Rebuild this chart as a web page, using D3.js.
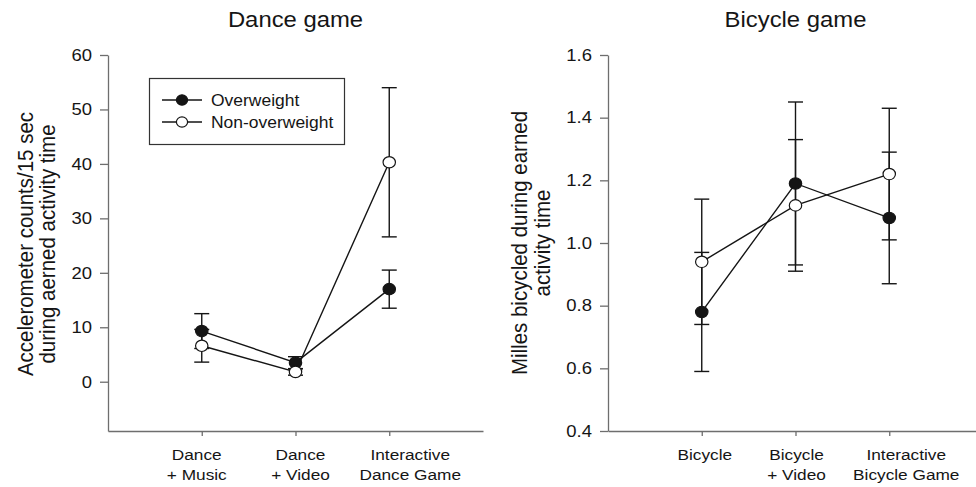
<!DOCTYPE html>
<html>
<head>
<meta charset="utf-8">
<script src="https://cdn.jsdelivr.net/npm/d3@7"></script>
<style>
  body { margin: 0; background: #fff; }
  svg { display: block; font-family: "Liberation Sans", Arial, Helvetica, sans-serif; }
</style>
</head>
<body>
<div id="chart"></div>
<script>
// Dance game
const danceCategories = [["Dance", "+ Music"], ["Dance", "+ Video"], ["Interactive", "Dance Game"]];
const danceOverweight = [9.3, 3.5, 17.0];
const danceOverweightErr = [3.2, 1.1, 3.5];
const danceNonOverweight = [6.6, 1.8, 40.3];
const danceNonOverweightErr = [3.0, 0.6, 13.7];
const danceTicks = [0, 10, 20, 30, 40, 50, 60];

// Bicycle game
const bikeCategories = [["Bicycle"], ["Bicycle", "+ Video"], ["Interactive", "Bicycle Game"]];
const bikeOverweight = [0.78, 1.19, 1.08];
const bikeOverweightErr = [0.19, 0.26, 0.21];
const bikeNonOverweight = [0.94, 1.12, 1.22];
const bikeNonOverweightErr = [0.20, 0.21, 0.21];
const bikeTicks = [0.4, 0.6, 0.8, 1.0, 1.2, 1.4, 1.6];

const seriesNames = ["Overweight", "Non-overweight"];

const W = 976, H = 487;
const plotTop = 55, plotBottom = 431, plotW = 375;
const ink = '#151515', axisColor = '#6e6e6e';
const SX = 1.12; // the scanned figure is a little wider than tall

const svg = d3.select('#chart').append('svg')
    .attr('width', W)
    .attr('height', H);

svg.append('rect').attr('width', W).attr('height', H).attr('fill', '#fff');

function addText(parent, x, y, str, size, anchor) {
    return parent.append('text')
        .attr('transform', `translate(${x},${y}) scale(${SX},1)`)
        .attr('text-anchor', anchor || 'start')
        .attr('fill', ink)
        .style('font-size', size + 'px')
        .text(str);
}

function drawPanel(opts) {
    const g = svg.append('g').attr('transform', `translate(${opts.left},0)`);

    const x = d3.scaleLinear().domain([0, 4]).range([0, plotW]);
    const y = d3.scaleLinear().domain(opts.yDomain).range([plotBottom, plotTop]);

    // y axis
    const yAxis = g.append('g')
        .call(d3.axisLeft(y).tickValues(opts.ticks).tickSize(8).tickPadding(8)
            .tickFormat(opts.fmt).tickSizeOuter(0));
    yAxis.select('.domain').attr('stroke', axisColor).attr('stroke-width', 1.3);
    yAxis.selectAll('.tick line').attr('stroke', axisColor).attr('stroke-width', 1.3);
    yAxis.selectAll('.tick text')
        .attr('fill', ink)
        .style('font-size', '16.5px')
        .attr('transform', function () { return `translate(${this.getAttribute('x')},0) scale(${SX},1)`; })
        .attr('x', 0);

    // x axis
    const xAxis = g.append('g')
        .attr('transform', `translate(0,${plotBottom})`)
        .call(d3.axisBottom(x).tickValues([1, 2, 3]).tickSize(5).tickFormat('').tickSizeOuter(0));
    xAxis.select('.domain').attr('stroke', axisColor).attr('stroke-width', 1.3);
    xAxis.selectAll('.tick line').attr('stroke', axisColor).attr('stroke-width', 1.3);

    // category labels
    opts.categories.forEach((lines, i) => {
        lines.forEach((line, j) => {
            addText(g, x(i + 1) + opts.labelDx[i], 460 + j * 20, line, 15.4, 'middle');
        });
    });

    // title
    addText(g, plotW / 2, 27, opts.title, 21.3, 'middle');

    // y label
    opts.yLabel.forEach((line, j) => {
        g.append('text')
            .attr('transform', `translate(${opts.yLabelX[j]},${opts.yLabelY}) rotate(-90) scale(1,${SX})`)
            .attr('text-anchor', 'middle')
            .attr('fill', ink)
            .style('font-size', '20.5px')
            .text(line);
    });

    const series = [
        { vals: opts.over, err: opts.overErr, fill: ink },
        { vals: opts.non, err: opts.nonErr, fill: '#fff' }
    ];

    // error bars
    series.forEach(s => {
        s.vals.forEach((v, i) => {
            const cx = x(i + 1);
            const y1 = y(v + s.err[i]), y2 = y(v - s.err[i]);
            g.append('line').attr('x1', cx).attr('x2', cx).attr('y1', y1).attr('y2', y2)
                .attr('stroke', ink).attr('stroke-width', 1.4);
            [y1, y2].forEach(yy => {
                g.append('line').attr('x1', cx - 7.5).attr('x2', cx + 7.5).attr('y1', yy).attr('y2', yy)
                    .attr('stroke', ink).attr('stroke-width', 1.4);
            });
        });
    });

    // lines
    const line = d3.line().x((d, i) => x(i + 1)).y(d => y(d));
    series.forEach(s => {
        g.append('path').attr('d', line(s.vals))
            .attr('fill', 'none').attr('stroke', ink).attr('stroke-width', 1.4);
    });

    // markers
    series.forEach(s => {
        g.selectAll(null).data(s.vals).enter().append('ellipse')
            .attr('cx', (d, i) => x(i + 1))
            .attr('cy', d => y(d))
            .attr('rx', 6.2)
            .attr('ry', 5.7)
            .attr('fill', s.fill)
            .attr('stroke', ink)
            .attr('stroke-width', 1.2);
    });

    return g;
}

drawPanel({
    left: 108,
    title: 'Dance game',
    yDomain: [-9.05, 60],
    ticks: danceTicks,
    fmt: d3.format('d'),
    categories: danceCategories,
    labelDx: [-5, 5, 21],
    yLabel: ['Accelerometer counts/15 sec', 'during aerned activity time'],
    yLabelX: [-75, -53],
    yLabelY: 244,
    over: danceOverweight, overErr: danceOverweightErr,
    non: danceNonOverweight, nonErr: danceNonOverweightErr
});

drawPanel({
    left: 608,
    title: 'Bicycle game',
    yDomain: [0.4, 1.6],
    ticks: bikeTicks,
    fmt: d3.format('.1f'),
    categories: bikeCategories,
    labelDx: [3, 1, 17],
    yLabel: ['Milles bicycled during earned', 'activity time'],
    yLabelX: [-81, -58],
    yLabelY: 243,
    over: bikeOverweight, overErr: bikeOverweightErr,
    non: bikeNonOverweight, nonErr: bikeNonOverweightErr
});

// Legend
const legend = svg.append('g');
legend.append('rect')
    .attr('x', 149.5).attr('y', 78.5)
    .attr('width', 195).attr('height', 66)
    .attr('fill', '#fff').attr('stroke', '#333').attr('stroke-width', 1.2);

seriesNames.forEach((name, i) => {
    const ly = 100 + i * 22;
    legend.append('line').attr('x1', 162).attr('x2', 202).attr('y1', ly).attr('y2', ly)
        .attr('stroke', ink).attr('stroke-width', 1.3);
    legend.append('ellipse').attr('cx', 182).attr('cy', ly).attr('rx', 5.6).attr('ry', 5.2)
        .attr('fill', i === 0 ? ink : '#fff').attr('stroke', ink).attr('stroke-width', 1.2);
    addText(legend, 211, ly + 6, name, 15.6, 'start');
});
</script>
</body>
</html>
